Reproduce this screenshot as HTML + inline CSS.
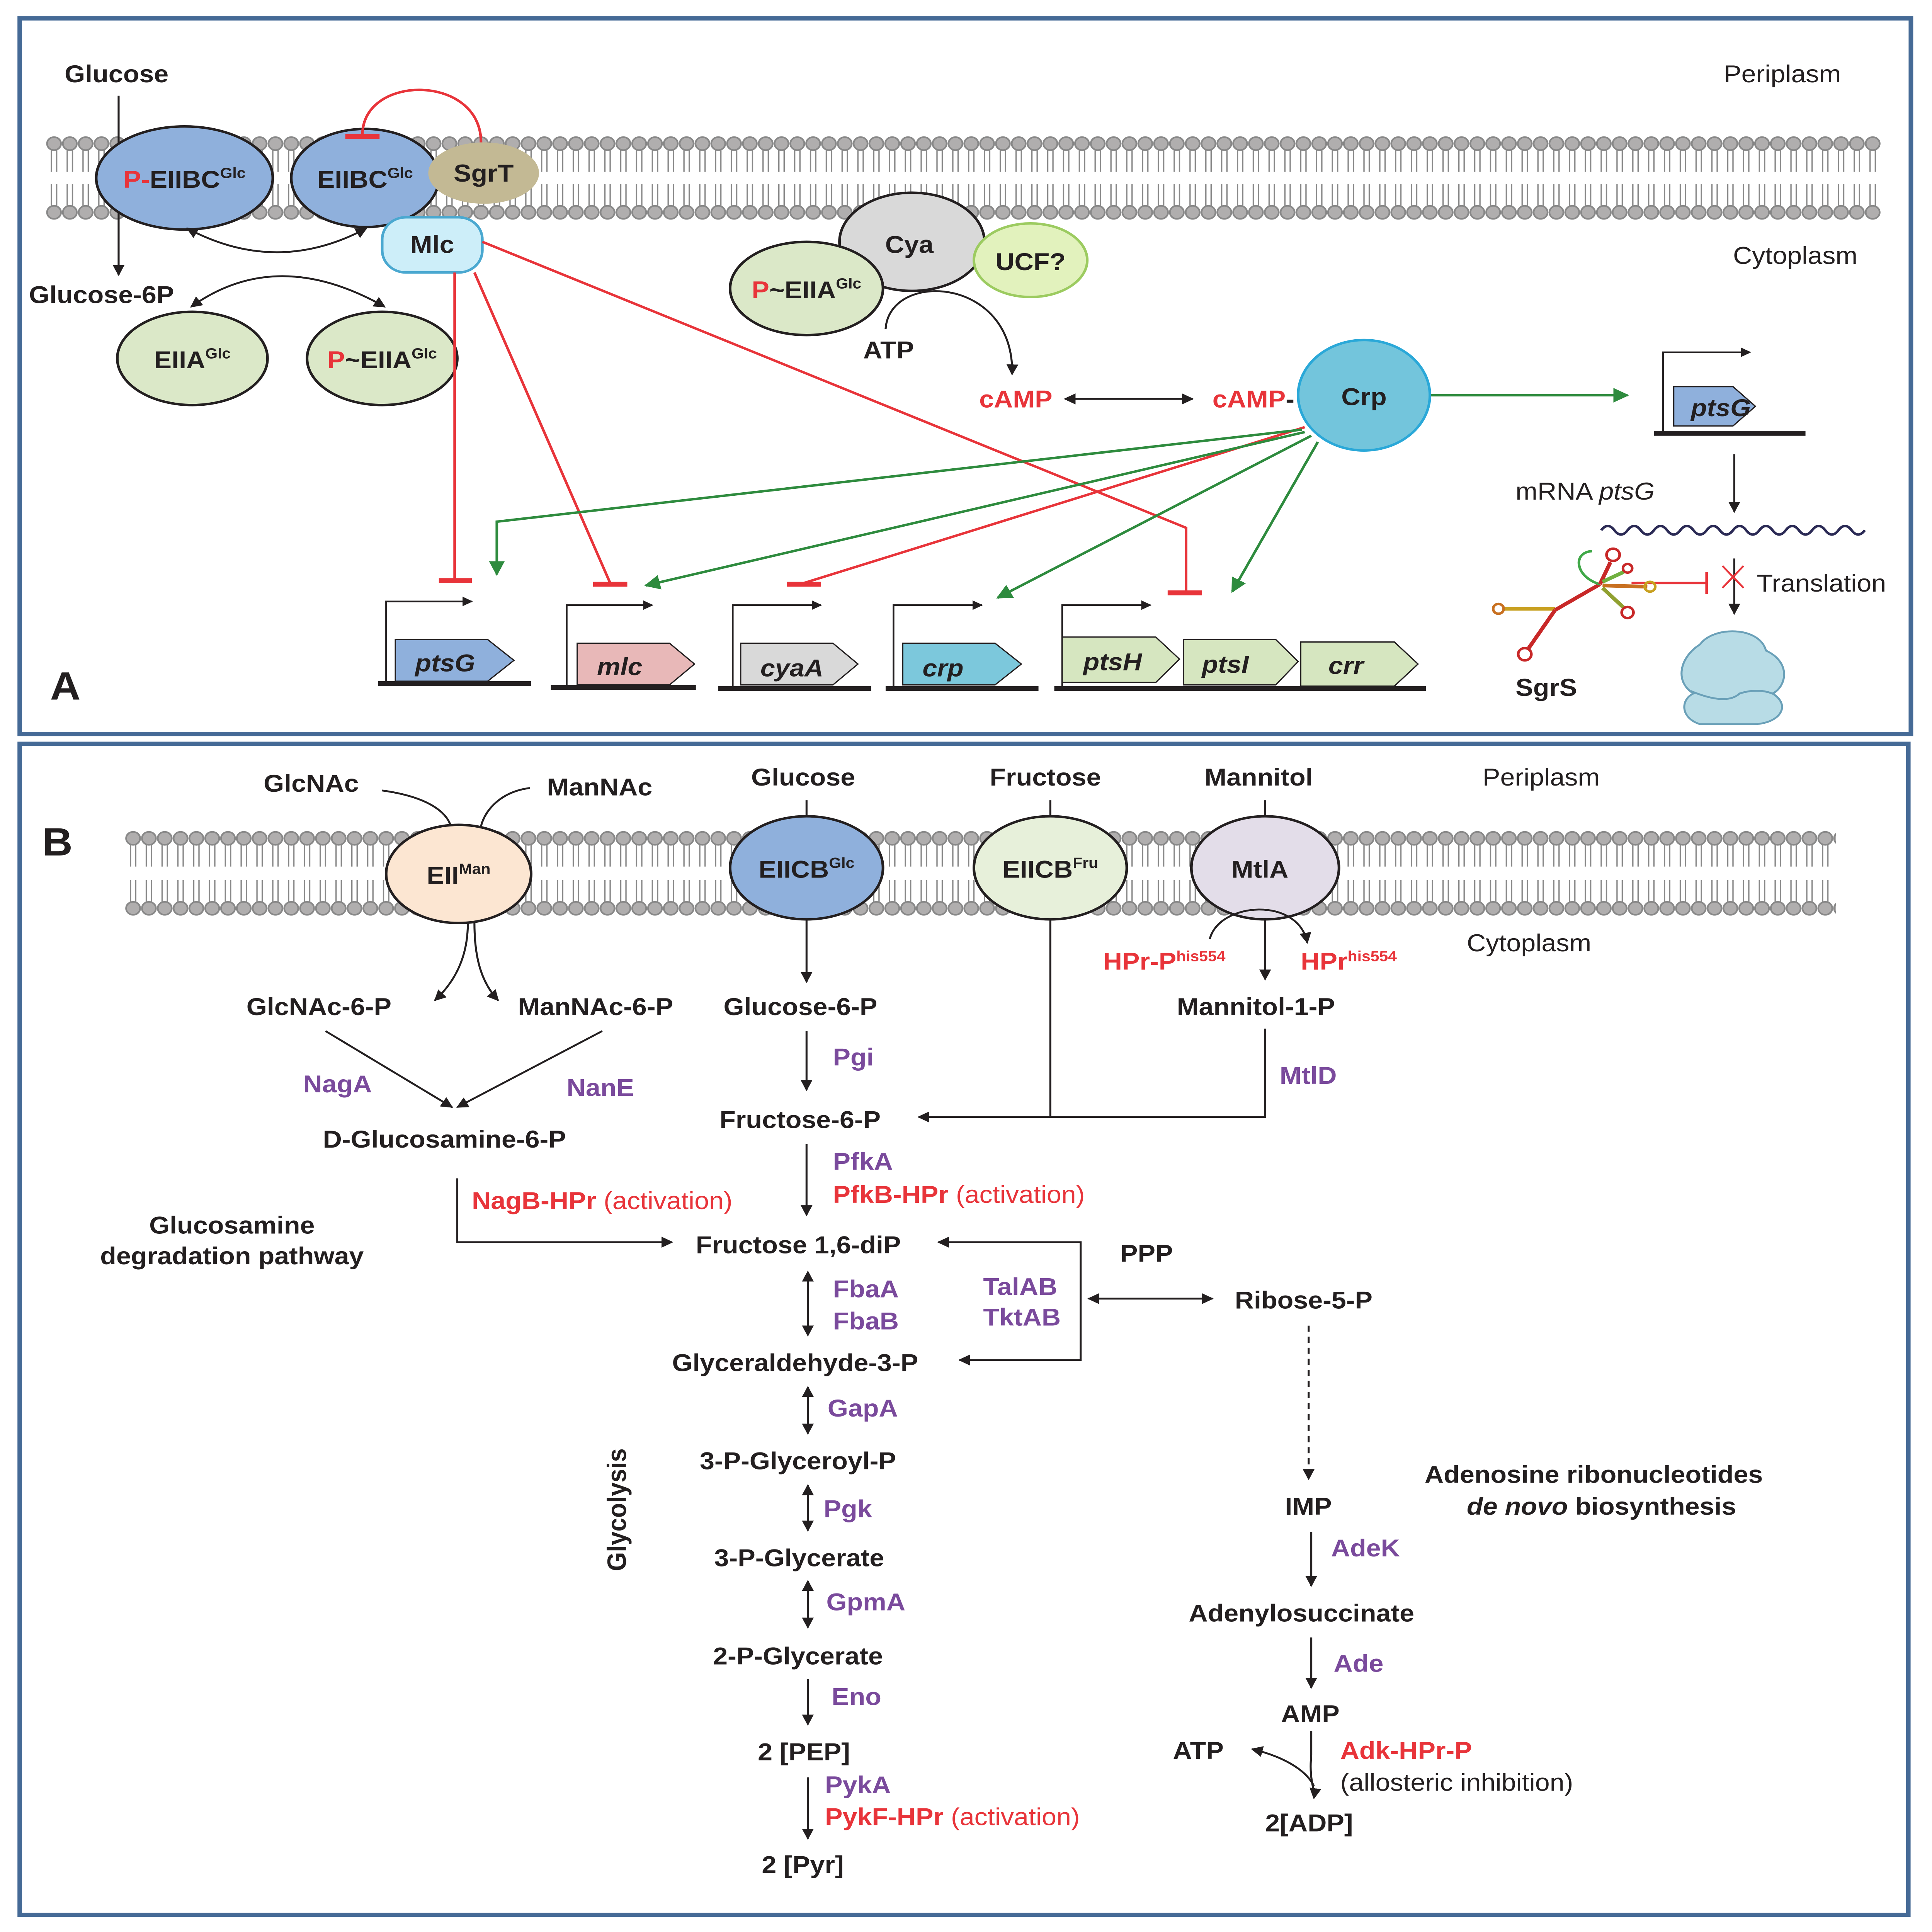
<!DOCTYPE html>
<html><head><meta charset="utf-8"><meta name="viewport" content="width=device-width,initial-scale=1"><style>
html,body{margin:0;padding:0;background:#fff;width:100vw;height:100vh;overflow:hidden;}
svg{display:block;position:fixed;left:0;top:0;width:100vw;height:100vh;}
text{font-family:"Liberation Sans",Arial,sans-serif;}
.b{font-weight:bold;font-size:20px;fill:#231f20;}
.r{fill:#e8343a;}
.p{font-weight:bold;font-size:20px;fill:#7a4a9c;}
.n{font-size:20px;fill:#231f20;}
</style></head><body>
<svg viewBox="0 0 1466 1574" preserveAspectRatio="none" xmlns="http://www.w3.org/2000/svg">
<defs>
<marker id="ab" viewBox="0 0 10 10" refX="9" refY="5" markerWidth="6" markerHeight="6" orient="auto-start-reverse"><path d="M0,0L10,5L0,10z" fill="#231f20"/></marker>
<marker id="ag" viewBox="0 0 10 10" refX="9" refY="5" markerWidth="6" markerHeight="6" orient="auto"><path d="M0,0L10,5L0,10z" fill="#2e8b3e"/></marker>
<pattern id="memA" x="35" y="0" width="12" height="400" patternUnits="userSpaceOnUse">
<line x1="4" y1="122" x2="4" y2="140" stroke="#888" stroke-width="1"/><line x1="8" y1="122" x2="8" y2="140" stroke="#888" stroke-width="1"/>
<line x1="4" y1="150" x2="4" y2="168" stroke="#888" stroke-width="1"/><line x1="8" y1="150" x2="8" y2="168" stroke="#888" stroke-width="1"/>
<circle cx="6" cy="117" r="5.3" fill="#b0aeae" stroke="#888" stroke-width="1.3"/>
<circle cx="6" cy="173" r="5.3" fill="#b0aeae" stroke="#888" stroke-width="1.3"/>
</pattern>
<pattern id="memB" x="95" y="0" width="12" height="900" patternUnits="userSpaceOnUse">
<line x1="4" y1="688" x2="4" y2="706" stroke="#888" stroke-width="1"/><line x1="8" y1="688" x2="8" y2="706" stroke="#888" stroke-width="1"/>
<line x1="4" y1="717" x2="4" y2="735" stroke="#888" stroke-width="1"/><line x1="8" y1="717" x2="8" y2="735" stroke="#888" stroke-width="1"/>
<circle cx="6" cy="683" r="5.3" fill="#b0aeae" stroke="#888" stroke-width="1.3"/>
<circle cx="6" cy="740" r="5.3" fill="#b0aeae" stroke="#888" stroke-width="1.3"/>
</pattern>
</defs>
<rect x="0" y="0" width="1466" height="1574" fill="#fff"/>
<rect x="15" y="15" width="1435" height="583" fill="none" stroke="#456a96" stroke-width="3.5"/>
<rect x="15" y="606" width="1433" height="954" fill="none" stroke="#456a96" stroke-width="3.5"/>
<rect x="35" y="108" width="1392" height="75" fill="url(#memA)"/>
<rect x="95" y="674" width="1298" height="75" fill="url(#memB)"/>

<text x="1308" y="67" class="n">Periplasm</text>
<text x="1315" y="215" class="n">Cytoplasm</text>
<text x="49" y="67" class="b">Glucose</text>
<line x1="90" y1="78" x2="90" y2="224" stroke="#231f20" stroke-width="1.5" marker-end="url(#ab)"/>
<text x="22" y="247" class="b">Glucose-6P</text>
<ellipse cx="140" cy="145" rx="67" ry="42" fill="#8fb0dc" stroke="#231f20" stroke-width="2"/>
<text x="140" y="153" class="b" text-anchor="middle"><tspan class="r">P-</tspan>EIIBC<tspan font-size="12" dy="-8">Glc</tspan></text>
<ellipse cx="277" cy="145" rx="56" ry="40" fill="#8fb0dc" stroke="#231f20" stroke-width="2"/>
<text x="277" y="153" class="b" text-anchor="middle">EIIBC<tspan font-size="12" dy="-8">Glc</tspan></text>
<ellipse cx="367" cy="141" rx="42" ry="25" fill="#c3b994"/>
<text x="367" y="148" class="b" text-anchor="middle">SgrT</text>
<path d="M365,116 C365,60 275,60 275,110" fill="none" stroke="#e8343a" stroke-width="2"/>
<line x1="262" y1="111" x2="288" y2="111" stroke="#e8343a" stroke-width="4"/>
<rect x="290" y="177" width="76" height="45" rx="18" fill="#cdeef9" stroke="#4aa8d0" stroke-width="2"/>
<text x="328" y="206" class="b" text-anchor="middle">Mlc</text>
<path d="M142,186 Q210,225 278,186" fill="none" stroke="#231f20" stroke-width="1.5" marker-start="url(#ab)" marker-end="url(#ab)"/>
<path d="M145,250 Q210,200 292,250" fill="none" stroke="#231f20" stroke-width="1.5" marker-start="url(#ab)" marker-end="url(#ab)"/>
<ellipse cx="146" cy="292" rx="57" ry="38" fill="#dbe8c8" stroke="#231f20" stroke-width="2"/>
<text x="146" y="300" class="b" text-anchor="middle">EIIA<tspan font-size="12" dy="-8">Glc</tspan></text>
<ellipse cx="290" cy="292" rx="57" ry="38" fill="#dbe8c8" stroke="#231f20" stroke-width="2"/>
<text x="290" y="300" class="b" text-anchor="middle" font-size="18"><tspan class="r">P</tspan>~EIIA<tspan font-size="12" dy="-8">Glc</tspan></text>

<ellipse cx="692" cy="197" rx="55" ry="40" fill="#d9d9d9" stroke="#231f20" stroke-width="2"/>
<text x="690" y="206" class="b" text-anchor="middle">Cya</text>
<ellipse cx="782" cy="212" rx="43" ry="30" fill="#e2f2bd" stroke="#9ccb60" stroke-width="2"/>
<text x="782" y="220" class="b" text-anchor="middle">UCF?</text>
<ellipse cx="612" cy="235" rx="58" ry="38" fill="#dbe8c8" stroke="#231f20" stroke-width="2"/>
<text x="612" y="243" class="b" text-anchor="middle" font-size="18"><tspan class="r">P</tspan>~EIIA<tspan font-size="12" dy="-8">Glc</tspan></text>
<path d="M672,268 C675,220 770,225 768,305" fill="none" stroke="#231f20" stroke-width="1.5" marker-end="url(#ab)"/>
<text x="655" y="292" class="b">ATP</text>
<text x="743" y="332" class="b r">cAMP</text>
<line x1="808" y1="325" x2="905" y2="325" stroke="#231f20" stroke-width="1.5" marker-start="url(#ab)" marker-end="url(#ab)"/>
<text x="920" y="332" class="b"><tspan class="r">cAMP</tspan>-</text>
<ellipse cx="1035" cy="322" rx="50" ry="45" fill="#73c5dc" stroke="#2aa8d8" stroke-width="2"/>
<text x="1035" y="330" class="b" text-anchor="middle">Crp</text>
<line x1="1086" y1="322" x2="1235" y2="322" stroke="#2e8b3e" stroke-width="2" marker-end="url(#ag)"/>
<path d="M1262,353 V287 H1328" fill="none" stroke="#231f20" stroke-width="1.3" marker-end="url(#ab)"/>
<path d="M1270,315 H1315 L1332,331 L1315,347 H1270z" fill="#8fb0dc" stroke="#231f20" stroke-width="1"/>
<text x="1283" y="339" class="b" font-style="italic" font-size="19">ptsG</text>
<line x1="1255" y1="353" x2="1370" y2="353" stroke="#231f20" stroke-width="4"/>
<line x1="1316" y1="370" x2="1316" y2="417" stroke="#231f20" stroke-width="1.5" marker-end="url(#ab)"/>
<text x="1150" y="407" class="n">mRNA <tspan font-style="italic">ptsG</tspan></text>
<path d="M1215,432 q5,-7 10,0 t10,0 t10,0 t10,0 t10,0 t10,0 t10,0 t10,0 t10,0 t10,0 t10,0 t10,0 t10,0 t10,0 t10,0 t10,0 t10,0 t10,0 t10,0 t10,0" fill="none" stroke="#2b2a55" stroke-width="2"/>
<line x1="1316" y1="455" x2="1316" y2="500" stroke="#231f20" stroke-width="1.5" marker-end="url(#ab)"/>
<line x1="1238" y1="475" x2="1295" y2="475" stroke="#e8343a" stroke-width="2"/>
<line x1="1295" y1="466" x2="1295" y2="484" stroke="#e8343a" stroke-width="2"/>
<path d="M1307,461 L1323,479 M1323,461 L1307,479" stroke="#e8343a" stroke-width="1.5"/>
<text x="1333" y="482" class="n">Translation</text>
<!-- SgrS structure -->
<g fill="none" stroke-width="3">
<path d="M1140,496 H1180" stroke="#c8a020"/>
<circle cx="1137" cy="496" r="4" stroke="#c87020" stroke-width="2"/>
<path d="M1180,497 L1160,528" stroke="#c82828"/>
<circle cx="1157" cy="533" r="5" stroke="#c82828" stroke-width="2"/>
<path d="M1180,497 L1214,476" stroke="#c82828"/>
<path d="M1214,476 C1195,470 1193,450 1208,449" stroke="#40a848" stroke-width="2"/>
<path d="M1214,476 L1222,458" stroke="#c82828"/>
<circle cx="1224" cy="452" r="5" stroke="#c82828" stroke-width="2"/>
<path d="M1216,474 L1232,466" stroke="#70b040"/>
<circle cx="1235" cy="463" r="3.5" stroke="#c82828" stroke-width="2"/>
<path d="M1216,477 L1250,478" stroke="#c87020"/>
<circle cx="1252" cy="478" r="4" stroke="#c8a020" stroke-width="2"/>
<path d="M1216,479 L1232,495" stroke="#90a030"/>
<circle cx="1235" cy="499" r="4.5" stroke="#c82828" stroke-width="2"/>
</g>
<text x="1150" y="567" class="b">SgrS</text>
<path d="M1290,525 C1300,510 1335,510 1340,530 C1360,540 1355,560 1345,565 C1360,575 1350,590 1330,590 L1290,590 C1275,585 1275,570 1285,565 C1270,555 1275,535 1290,525z" fill="#b8dce6" stroke="#6aa0b8" stroke-width="1.5"/>
<path d="M1283,563 Q1310,575 1320,565 Q1335,560 1347,566" fill="none" stroke="#6aa0b8" stroke-width="1.5"/>
<text x="38" y="570" font-size="32" font-weight="bold" fill="#231f20">A</text>

<g stroke="#231f20">
<line x1="287" y1="557" x2="403" y2="557" stroke-width="4"/>
<line x1="418" y1="560" x2="528" y2="560" stroke-width="4"/>
<line x1="545" y1="561" x2="661" y2="561" stroke-width="4"/>
<line x1="672" y1="561" x2="788" y2="561" stroke-width="4"/>
<line x1="800" y1="561" x2="1082" y2="561" stroke-width="4"/>
</g>
<g fill="none" stroke="#231f20" stroke-width="1.3">
<path d="M293,557 V490 H358" marker-end="url(#ab)"/>
<path d="M430,560 V493 H495" marker-end="url(#ab)"/>
<path d="M556,561 V493 H623" marker-end="url(#ab)"/>
<path d="M678,561 V493 H745" marker-end="url(#ab)"/>
<path d="M806,561 V493 H873" marker-end="url(#ab)"/>
</g>
<g stroke="#231f20" stroke-width="1">
<path d="M300,521 H370 L390,538 L370,555 H300z" fill="#8fb0dc"/>
<path d="M438,524 H508 L527,541 L508,558 H438z" fill="#e8b8b8"/>
<path d="M562,524 H632 L651,541 L632,558 H562z" fill="#d9d9d9"/>
<path d="M685,524 H755 L775,541 L755,558 H685z" fill="#7cc8dc"/>
<path d="M806,519 H877 L895,537 L877,556 H806z" fill="#d6e6c0"/>
<path d="M898,521 H968 L985,539 L968,558 H898z" fill="#d6e6c0"/>
<path d="M987,523 H1058 L1076,541 L1058,559 H987z" fill="#d6e6c0"/>
</g>
<g font-style="italic">
<text x="315" y="547" class="b">ptsG</text>
<text x="453" y="550" class="b">mlc</text>
<text x="577" y="551" class="b">cyaA</text>
<text x="700" y="551" class="b">crp</text>
<text x="822" y="546" class="b">ptsH</text>
<text x="912" y="548" class="b">ptsI</text>
<text x="1008" y="549" class="b">crr</text>
</g>
<g stroke="#e8343a" stroke-width="2" fill="none">
<line x1="345" y1="222" x2="345" y2="473"/><line x1="333" y1="473" x2="358" y2="473" stroke-width="4"/>
<line x1="360" y1="222" x2="463" y2="475"/><line x1="450" y1="476" x2="476" y2="476" stroke-width="4"/>
<path d="M366,197 L900,430 V483"/><line x1="886" y1="483" x2="912" y2="483" stroke-width="4"/>
<line x1="990" y1="348" x2="610" y2="475"/><line x1="597" y1="476" x2="623" y2="476" stroke-width="4"/>
</g>
<g stroke="#2e8b3e" stroke-width="2" fill="none">
<path d="M988,350 L377,425 V468" marker-end="url(#ag)"/>
<line x1="990" y1="352" x2="490" y2="477" marker-end="url(#ag)"/>
<line x1="995" y1="355" x2="757" y2="487" marker-end="url(#ag)"/>
<line x1="1000" y1="360" x2="935" y2="482" marker-end="url(#ag)"/>
</g>

<text x="32" y="697" font-size="32" font-weight="bold" fill="#231f20">B</text>
<text x="1125" y="640" class="n">Periplasm</text>
<text x="1113" y="775" class="n">Cytoplasm</text>
<text x="200" y="645" class="b">GlcNAc</text>
<text x="415" y="648" class="b">ManNAc</text>
<path d="M290,644 C330,650 340,665 342,673" fill="none" stroke="#231f20" stroke-width="1.5"/>
<path d="M402,642 C380,645 368,660 365,673" fill="none" stroke="#231f20" stroke-width="1.5"/>
<ellipse cx="348" cy="712" rx="55" ry="40" fill="#fce6d2" stroke="#231f20" stroke-width="2"/>
<text x="348" y="720" class="b" text-anchor="middle">EII<tspan font-size="12" dy="-8">Man</tspan></text>
<text x="570" y="640" class="b">Glucose</text>
<text x="751" y="640" class="b">Fructose</text>
<text x="914" y="640" class="b">Mannitol</text>
<g stroke="#231f20" stroke-width="1.5">
<line x1="612" y1="652" x2="612" y2="666"/><line x1="797" y1="652" x2="797" y2="666"/><line x1="960" y1="652" x2="960" y2="666"/>
</g>
<ellipse cx="612" cy="707" rx="58" ry="42" fill="#8fb0dc" stroke="#231f20" stroke-width="2"/>
<text x="612" y="715" class="b" text-anchor="middle">EIICB<tspan font-size="12" dy="-8">Glc</tspan></text>
<ellipse cx="797" cy="707" rx="58" ry="42" fill="#e7f0da" stroke="#231f20" stroke-width="2"/>
<text x="797" y="715" class="b" text-anchor="middle">EIICB<tspan font-size="12" dy="-8">Fru</tspan></text>
<ellipse cx="960" cy="707" rx="56" ry="42" fill="#e3dde9" stroke="#231f20" stroke-width="2"/>
<text x="956" y="715" class="b" text-anchor="middle">MtlA</text>

<g stroke="#231f20" stroke-width="1.5" fill="none">
<path d="M355,752 C355,780 345,800 330,815" marker-end="url(#ab)"/>
<path d="M360,752 C360,780 365,800 378,815" marker-end="url(#ab)"/>
<line x1="247" y1="840" x2="343" y2="902" marker-end="url(#ab)"/>
<line x1="457" y1="840" x2="347" y2="902" marker-end="url(#ab)"/>
<path d="M347,960 V1012 H510" marker-end="url(#ab)"/>
<line x1="612" y1="750" x2="612" y2="800" marker-end="url(#ab)"/>
<line x1="612" y1="840" x2="612" y2="888" marker-end="url(#ab)"/>
<path d="M797,750 V910 H697" marker-end="url(#ab)"/>
<path d="M960,838 V910 H797"/>
<line x1="960" y1="748" x2="960" y2="798" marker-end="url(#ab)"/>
<path d="M918,765 C925,735 985,730 992,768" marker-end="url(#ab)"/>
<line x1="612" y1="932" x2="612" y2="990" marker-end="url(#ab)"/>
<path d="M712,1012 H820 V1108 H728" marker-start="url(#ab)" marker-end="url(#ab)"/>
<line x1="826" y1="1058" x2="920" y2="1058" marker-start="url(#ab)" marker-end="url(#ab)"/>
<line x1="613" y1="1036" x2="613" y2="1088" marker-start="url(#ab)" marker-end="url(#ab)"/>
<line x1="613" y1="1130" x2="613" y2="1168" marker-start="url(#ab)" marker-end="url(#ab)"/>
<line x1="613" y1="1210" x2="613" y2="1247" marker-start="url(#ab)" marker-end="url(#ab)"/>
<line x1="613" y1="1288" x2="613" y2="1326" marker-start="url(#ab)" marker-end="url(#ab)"/>
<line x1="613" y1="1368" x2="613" y2="1405" marker-end="url(#ab)"/>
<line x1="613" y1="1448" x2="613" y2="1498" marker-end="url(#ab)"/>
<line x1="993" y1="1080" x2="993" y2="1205" stroke-dasharray="5,4" marker-end="url(#ab)"/>
<line x1="995" y1="1248" x2="995" y2="1292" marker-end="url(#ab)"/>
<line x1="995" y1="1334" x2="995" y2="1375" marker-end="url(#ab)"/>
<path d="M995,1410 V1430 C993,1450 998,1458 997,1465" marker-end="url(#ab)"/>
<path d="M997,1455 C990,1440 970,1430 950,1425" marker-end="url(#ab)"/>
</g>
<text x="187" y="827" class="b">GlcNAc-6-P</text>
<text x="393" y="827" class="b">ManNAc-6-P</text>
<text x="230" y="890" class="p">NagA</text>
<text x="430" y="893" class="p">NanE</text>
<text x="245" y="935" class="b">D-Glucosamine-6-P</text>
<text x="358" y="985" class="b r">NagB-HPr <tspan font-weight="normal">(activation)</tspan></text>
<text x="176" y="1005" class="b" text-anchor="middle">Glucosamine</text>
<text x="176" y="1030" class="b" text-anchor="middle">degradation pathway</text>
<text x="549" y="827" class="b">Glucose-6-P</text>
<text x="632" y="868" class="p">Pgi</text>
<text x="546" y="919" class="b">Fructose-6-P</text>
<text x="893" y="827" class="b">Mannitol-1-P</text>
<text x="971" y="883" class="p">MtlD</text>
<text x="837" y="790" class="b r" font-size="18">HPr-P<tspan font-size="12" dy="-7">his554</tspan></text>
<text x="987" y="790" class="b r" font-size="18">HPr<tspan font-size="12" dy="-7">his554</tspan></text>
<text x="632" y="953" class="p">PfkA</text>
<text x="632" y="980" class="b r">PfkB-HPr <tspan font-weight="normal">(activation)</tspan></text>
<text x="528" y="1021" class="b">Fructose 1,6-diP</text>
<text x="850" y="1028" class="b">PPP</text>
<text x="937" y="1066" class="b">Ribose-5-P</text>
<text x="746" y="1055" class="p">TalAB</text>
<text x="746" y="1080" class="p">TktAB</text>
<text x="632" y="1057" class="p">FbaA</text>
<text x="632" y="1083" class="p">FbaB</text>
<text x="510" y="1117" class="b">Glyceraldehyde-3-P</text>
<text x="628" y="1154" class="p">GapA</text>
<text x="531" y="1197" class="b">3-P-Glyceroyl-P</text>
<text x="625" y="1236" class="p">Pgk</text>
<text x="542" y="1276" class="b">3-P-Glycerate</text>
<text x="627" y="1312" class="p">GpmA</text>
<text x="541" y="1356" class="b">2-P-Glycerate</text>
<text x="631" y="1389" class="p">Eno</text>
<text x="575" y="1434" class="b">2 [PEP]</text>
<text x="626" y="1461" class="p">PykA</text>
<text x="626" y="1487" class="b r">PykF-HPr <tspan font-weight="normal">(activation)</tspan></text>
<text x="578" y="1526" class="b">2 [Pyr]</text>
<text x="0" y="0" class="b" transform="translate(475,1280) rotate(-90)">Glycolysis</text>
<text x="975" y="1234" class="b">IMP</text>
<text x="1010" y="1268" class="p">AdeK</text>
<text x="902" y="1321" class="b">Adenylosuccinate</text>
<text x="1012" y="1362" class="p">Ade</text>
<text x="972" y="1403" class="b">AMP</text>
<text x="890" y="1433" class="b">ATP</text>
<text x="1017" y="1433" class="b r">Adk-HPr-P</text>
<text x="1017" y="1459" class="n r">(allosteric inhibition)</text>
<text x="960" y="1492" class="b">2[ADP]</text>
<text x="1081" y="1208" class="b">Adenosine ribonucleotides</text>
<text x="1113" y="1234" class="b"><tspan font-style="italic">de novo</tspan> biosynthesis</text>
</svg>
</body></html>
